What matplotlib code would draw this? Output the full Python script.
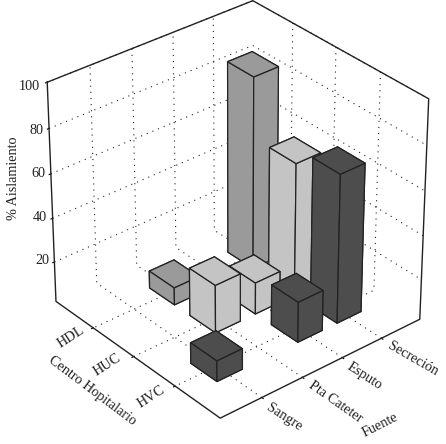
import matplotlib
matplotlib.use('Agg')
import matplotlib.pyplot as plt

plt.rcParams['font.family'] = ['Liberation Serif', 'DejaVu Serif']

# column order along x: Sangre, Pta Cateter, Esputo, Secrecion
fuentes = ['Sangre', 'Pta Cateter', 'Esputo', 'Secreción']
centros = ['HDL', 'HUC', 'HVC']
hdl_values = [0, 9.5, 0, 89]
huc_values = [0, 23.5, 16, 62]
hvc_values = [11, 0, 20, 69]
z_ticks = [20, 40, 60, 80, 100]

bar_colors = ['#9a9a9a', '#c4c4c4', '#4d4d4d']
bar_width = 0.62
W, H = 446, 444
x_lim = (0, 5)
y_lim = (4.05, 0.05)   # reversed, same as a bar3 plot
z_lim = (1.6, 100)


def px_text(x, y, s, rot=0, ha='center', size=10.2):
    fig.text(x / W, 1 - y / H, s, rotation=rot, ha=ha, va='center', fontsize=size,
             color='#222222', rotation_mode='anchor')


fig = plt.figure(figsize=(W / 100, H / 100), dpi=100, facecolor='white')
ax = fig.add_axes([8 / W, (H - 209 - 223) / H, 446 / W, 446 / H], projection='3d',
                  computed_zorder=False)
ax.set_proj_type('persp', focal_length=1.2)
ax.view_init(elev=32, azim=-130)
ax.set_xlim(*x_lim, view_margin=0)
ax.set_ylim(*y_lim, view_margin=0)
ax.set_zlim(*z_lim, view_margin=0)
ax.set_box_aspect((1, 1, 0.98), zoom=0.99)
ax.patch.set_alpha(0)

ax.set_xticks(range(1, 5))
ax.set_yticks(range(1, 4))
ax.set_zticks(z_ticks)
ax.set_xticklabels([])
ax.set_yticklabels([])
ax.set_zticklabels([])

for axis in (ax.xaxis, ax.yaxis, ax.zaxis):
    axis.pane.set_visible(False)
    axis.line.set_color((0, 0, 0, 0))
    axis._axinfo['grid'].update(color='#222222', linewidth=0.8, linestyle=(0, (1, 4.5)))
    axis._axinfo['tick'].update(inward_factor=0.1, outward_factor=0)
    axis._axinfo['tick']['linewidth'] = {True: 0.8, False: 0.5}
    axis._axinfo['tick']['color'] = '#222222'

# box outline: left wall edge, front floor edges, right wall edge, top of the back walls
x0, x1 = x_lim
y_front, y_back = y_lim
z0, z1 = z_lim
ax.plot([x0, x0, x0, x1, x1, x1, x0],
        [y_back, y_back, y_front, y_front, y_front, y_back, y_back],
        [z1, z0, z0, z0, z1, z1, z1], color='#222222', lw=1.0, zorder=1)

# bars, painted from the back corner to the front
bars = []
for j, values in enumerate([hdl_values, huc_values, hvc_values]):
    for i, v in enumerate(values):
        if v > 0:
            bars.append((i + 1, j + 1, v, bar_colors[j]))
bars.sort(key=lambda b: b[1] - b[0])
for n, (x, y, v, c) in enumerate(bars):
    ax.bar3d(x - bar_width / 2, y - bar_width / 2, z0, bar_width, bar_width, v - z0,
             color=c, shade=False, edgecolor='#222222', linewidth=0.9, zorder=n + 2)

for z, label_x, label_y in zip(z_ticks, [49, 47, 45, 43, 40], [261, 217, 173, 130, 87]):
    px_text(label_x, label_y, str(z), ha='right')
for s, cx, cy in zip(centros, [71, 107, 151], [337, 365, 397]):
    px_text(cx, cy, s, rot=33)
for s, cx, cy, r in zip(fuentes, [284, 336, 365, 413], [417, 402, 376, 359],
                        [-33, -35, -33, -30]):
    px_text(cx, cy, s, rot=r)
px_text(92, 391, 'Centro Hopitalario', rot=-37)
px_text(380, 425, 'Fuente', rot=27)
px_text(14, 178, '% Aislamiento', rot=90)

fig.savefig('out.png', dpi=100, facecolor='white')
